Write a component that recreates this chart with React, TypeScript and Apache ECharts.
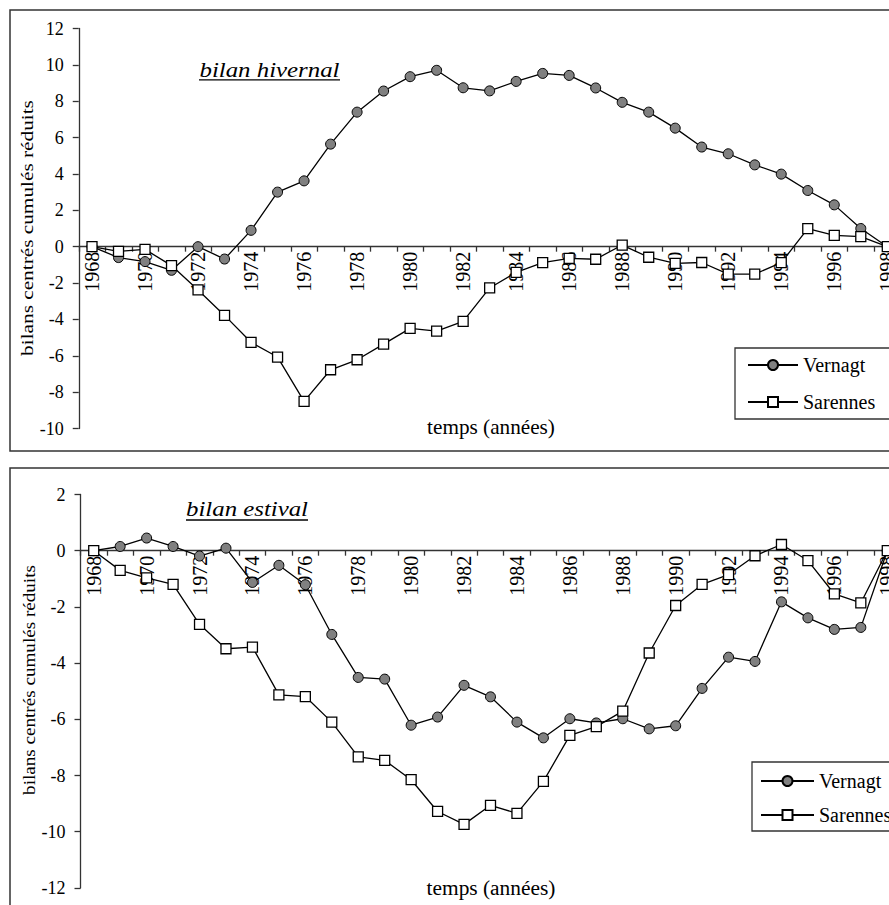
import React, { useEffect, useRef } from "react";
import * as echarts from "echarts";

const years = [
  "1968", "1969", "1970", "1971", "1972", "1973", "1974", "1975", "1976", "1977",
  "1978", "1979", "1980", "1981", "1982", "1983", "1984", "1985", "1986", "1987",
  "1988", "1989", "1990", "1991", "1992", "1993", "1994", "1995", "1996", "1997", "1998",
];

const hivernalVernagt = [
  0, -0.6, -0.82, -1.3, 0, -0.68, 0.9, 3.0, 3.62, 5.64,
  7.4, 8.56, 9.35, 9.7, 8.74, 8.57, 9.09, 9.53, 9.42, 8.73,
  7.94, 7.4, 6.52, 5.48, 5.11, 4.5, 3.99, 3.09, 2.3, 1.0, 0,
];
const hivernalSarennes = [
  0, -0.26, -0.15, -1.04, -2.38, -3.78, -5.26, -6.07, -8.51, -6.77,
  -6.22, -5.36, -4.49, -4.64, -4.11, -2.27, -1.41, -0.88, -0.64, -0.69,
  0.09, -0.58, -0.92, -0.87, -1.51, -1.51, -0.88, 0.99, 0.62, 0.55, 0,
];
const estivalVernagt = [
  0, 0.15, 0.45, 0.15, -0.19, 0.09, -1.13, -0.52, -1.21, -2.98,
  -4.51, -4.57, -6.21, -5.92, -4.79, -5.2, -6.1, -6.66, -5.98, -6.13,
  -5.98, -6.34, -6.23, -4.9, -3.79, -3.94, -1.82, -2.39, -2.8, -2.73, 0,
];
const estivalSarennes = [
  0, -0.7, -0.97, -1.2, -2.62, -3.49, -3.43, -5.13, -5.19, -6.1,
  -7.34, -7.46, -8.15, -9.28, -9.74, -9.06, -9.35, -8.21, -6.57, -6.26,
  -5.71, -3.64, -1.95, -1.2, -0.85, -0.18, 0.22, -0.35, -1.54, -1.86, 0,
];

const seriesNames = ["Vernagt", "Sarennes"];
const panelTitles = ["bilan hivernal", "bilan estival"];
const xAxisName = "temps (années)";
const yAxisName = "bilans centrés cumulés réduits";
const yRanges = [
  { min: -10, max: 12 },
  { min: -12, max: 2 },
];

const FF = "Liberation Serif";
const AXIS = "#333";

const grids = [
  { left: 78.75, top: 28.5, width: 821.8, height: 400 },
  { left: 80.5, top: 494.5, width: 820, height: 393.4 },
];

function measure(text: string, font: string): number {
  const ctx = document.createElement("canvas").getContext("2d");
  if (!ctx) return text.length * 9;
  ctx.font = font;
  return ctx.measureText(text).width || text.length * 9;
}

function textEl(text: string, cx: number, cy: number, fontSize: number, targetWidth: number, italic: boolean, rotation = 0) {
  const w = measure(text, `${italic ? "italic " : ""}${fontSize}px "${FF}"`);
  return {
    type: "text",
    x: cx,
    y: cy,
    rotation,
    scaleX: targetWidth / w,
    z: 10,
    style: {
      text,
      fontFamily: FF,
      fontSize,
      fontStyle: italic ? "italic" : "normal",
      fill: "#000",
      align: "center",
      verticalAlign: "middle",
    },
  };
}

export default function App() {
  const ref = useRef<HTMLDivElement>(null);

  useEffect(() => {
    if (!ref.current) return;
    const chart = echarts.init(ref.current, null, { renderer: "svg" });

    const mkX = (i: number) => {
      const r = yRanges[i];
      const zeroFromBottom = (grids[i].height * (0 - r.min)) / (r.max - r.min);
      return {
        type: "category",
        gridIndex: i,
        position: "bottom",
        offset: -zeroFromBottom,
        data: years,
        boundaryGap: true,
        axisLine: { onZero: false, lineStyle: { color: AXIS, width: 1.3 } },
        axisTick: { show: true, interval: 0, length: 5, lineStyle: { color: AXIS, width: 1.3 } },
        axisLabel: { interval: 1, rotate: 90, margin: 5, fontSize: 20, fontFamily: FF, color: "#000" },
        splitLine: { show: false },
      };
    };
    const mkY = (i: number) => ({
      type: "value",
      gridIndex: i,
      min: yRanges[i].min,
      max: yRanges[i].max,
      interval: 2,
      axisLine: { show: true, onZero: false, lineStyle: { color: AXIS, width: 1.3 } },
      axisTick: { show: true, length: 6, lineStyle: { color: AXIS, width: 1.3 } },
      axisLabel: { margin: 15, fontSize: 18, fontFamily: FF, color: "#000" },
      splitLine: { show: false },
    });

    const mkSeries = (name: string, data: number[], idx: number) => {
      const circle = name === "Vernagt";
      return {
        type: "line",
        name,
        data,
        xAxisIndex: idx,
        yAxisIndex: idx,
        symbol: circle ? "circle" : "rect",
        symbolSize: 10,
        showAllSymbol: true,
        clip: false,
        lineStyle: { color: "#000", width: 1.3 },
        itemStyle: {
          color: circle ? "#808080" : "#ffffff",
          borderColor: "#000",
          borderWidth: circle ? 1 : 1.3,
        },
        emphasis: { disabled: true },
        z: circle ? 2 : 3,
      };
    };

    const legendText = { fontSize: 20, fontFamily: FF, color: "#000" };

    const option = {
      animation: false,
      textStyle: { fontFamily: FF },
      grid: grids.map((g) => ({ ...g, containLabel: false, outerBoundsMode: "none" })),
      xAxis: [mkX(0), mkX(1)],
      yAxis: [mkY(0), mkY(1)],
      legend: [
        {
          data: seriesNames,
          orient: "vertical",
          left: 735,
          top: 348,
          padding: [7, 30, 7, 12],
          itemGap: 17,
          itemWidth: 50,
          itemHeight: 12.5,
          borderColor: AXIS,
          borderWidth: 1.3,
          backgroundColor: "#fff",
          textStyle: legendText,
          selectedMode: false,
        },
        {
          data: seriesNames,
          orient: "vertical",
          left: 752,
          top: 762,
          padding: [9, 30, 6, 8],
          itemGap: 14,
          itemWidth: 53,
          itemHeight: 12.5,
          borderColor: AXIS,
          borderWidth: 1.3,
          backgroundColor: "#fff",
          textStyle: legendText,
          selectedMode: false,
        },
      ],
      series: [
        mkSeries(seriesNames[0], hivernalVernagt, 0),
        mkSeries(seriesNames[1], hivernalSarennes, 0),
        mkSeries(seriesNames[0], estivalVernagt, 1),
        mkSeries(seriesNames[1], estivalSarennes, 1),
      ],
      graphic: [
        {
          type: "rect",
          shape: { x: 10, y: 10, width: 1000, height: 441 },
          style: { fill: "none", stroke: AXIS, lineWidth: 1.5 },
          z: -1,
        },
        {
          type: "rect",
          shape: { x: 10, y: 468, width: 1000, height: 600 },
          style: { fill: "none", stroke: AXIS, lineWidth: 1.5 },
          z: -1,
        },
        textEl(panelTitles[0], 269.5, 70.5, 20, 140, true),
        { type: "line", shape: { x1: 199, y1: 79.8, x2: 340, y2: 79.8 }, style: { stroke: "#000", lineWidth: 1.3 } },
        textEl(panelTitles[1], 247, 509.5, 20, 122, true),
        { type: "line", shape: { x1: 186, y1: 520, x2: 308, y2: 520 }, style: { stroke: "#000", lineWidth: 1.3 } },
        textEl(xAxisName, 491, 427.5, 20, 128, false),
        textEl(xAxisName, 491, 888, 20, 129, false),
        textEl(yAxisName, 27.6, 228, 17, 256, false, Math.PI / 2),
        textEl(yAxisName, 29.3, 680, 17, 230, false, Math.PI / 2),
      ],
    };

    chart.setOption(option as any);
    return () => chart.dispose();
  }, []);

  return (
    <div
      ref={ref}
      style={{ position: "absolute", left: 0, top: 0, width: 889, height: 905, background: "#fff" }}
    />
  );
}
